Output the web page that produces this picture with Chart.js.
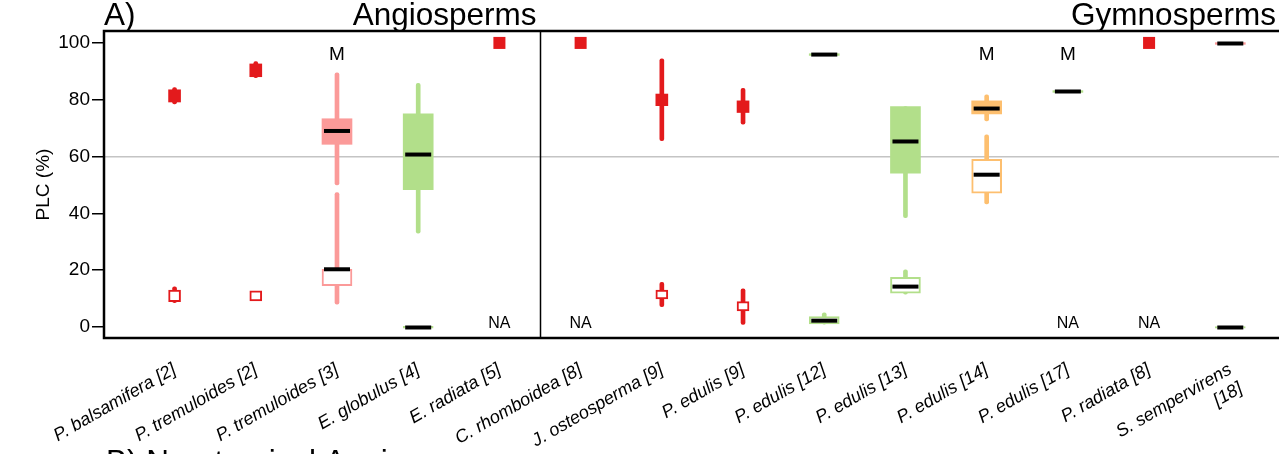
<!DOCTYPE html>
<html>
<head>
<meta charset="utf-8">
<script src="https://cdn.jsdelivr.net/npm/chart.js@4.4.0/dist/chart.umd.min.js"></script>
<style>
  html, body { margin: 0; padding: 0; background: #fff; overflow: hidden; }
  #wrap { width: 1300px; height: 454px; }
</style>
</head>
<body>
<div id="wrap"><canvas id="plc-chart"></canvas></div>
<script>
// species / study labels, one per column
const species = [
  "P. balsamifera [2]", "P. tremuloides [2]", "P. tremuloides [3]", "E. globulus [4]", "E. radiata [5]",
  "C. rhomboidea [8]", "J. osteosperma [9]", "P. edulis [9]", "P. edulis [12]", "P. edulis [13]",
  "P. edulis [14]", "P. edulis [17]", "P. radiata [8]", ["S. sempervirens", "[18]"]
];
const yTicks = [0, 20, 40, 60, 80, 100];
const plcThreshold = 60;
const groupSplit = 5.5; // angiosperms | gymnosperms

// filled boxes: trees that died
const deadLow  = [78.5, 87.8, 50.0, 33.0, null, null, 65.6, 71.4, 95.9, 38.5, 72.5, 82.9, null, 99.8];
const deadQ1   = [79.2, 88.1, 64.3, 48.3, null, null, 77.9, 75.5, 95.6, 54.1, 75.0, 82.6, null, 99.5];
const deadMed  = [null, null, 69.0, 60.7, null, null, null, null, 95.9, 65.3, 76.9, 82.9, null, 99.8];
const deadQ3   = [83.5, 92.6, 73.3, 75.0, null, null, 82.0, 79.6, 96.2, 77.6, 79.6, 83.2, null, 100.1];
const deadHigh = [84.3, 93.4, 89.5, 85.8, null, null, 94.4, 84.0, 95.9, 77.6, 81.7, 82.9, null, 99.8];
const deadPoint = [null, null, null, null, 100, 100, null, null, null, null, null, null, 100, null];

// open boxes: trees that survived
const liveLow  = [8.5, null, 8.0, null, null, null, 7.1, 0.9, 1.0, 11.5, 43.3, null, null, null];
const liveQ1   = [8.9, 9.2, 14.5, -0.4, null, null, 9.9, 5.6, 1.1, 11.9, 47.1, null, null, -0.4];
const liveMed  = [null, null, 20.3, -0.2, null, null, null, null, 2.2, 14.2, 53.6, null, null, -0.2];
const liveQ3   = [13.0, 12.7, 20.3, 0.2, null, null, 13.0, 8.9, 3.6, 17.5, 59.0, null, null, 0.1];
const liveHigh = [14.1, null, 47.3, null, null, null, 15.7, 13.4, 5.0, 20.1, 67.6, null, null, null];

const markM = [3, 11, 12];       // columns flagged "M"
const markNA = [5, 6, 12, 13];   // columns without survivors

const palette = { red: "#E31A1C", pink: "#FB9A99", green: "#B2DF8A", orange: "#FDBF6F" };
const deadColour = ["red", "red", "pink", "green", "red", "red", "red", "red", "green", "green", "orange", "green", "red", "pink"];
const liveColour = ["red", "red", "pink", "green", "red", "red", "red", "red", "green", "green", "orange", "green", "red", "green"];

function pick(arr, test) {
  return arr.map((v, i) => i).filter(test);
}

function makeSets(low, q1, med, q3, high, colours, filled) {
  const sets = [];
  const whisk = pick(low, (i) => low[i] !== null && high[i] !== null);
  sets.push({
    type: "bar",
    order: 3,
    data: whisk.map((i) => ({ x: i + 1, y: [low[i], high[i]] })),
    backgroundColor: whisk.map((i) => palette[colours[i]]),
    barThickness: 4,
    borderRadius: 2,
    borderSkipped: false,
    grouped: false,
  });
  const wide = pick(q1, (i) => q1[i] !== null && med[i] !== null);
  const narrow = pick(q1, (i) => q1[i] !== null && med[i] === null);
  [[wide, 30], [narrow, 12]].forEach(([idx, w]) => {
    sets.push({
      type: "bar",
      order: filled ? 1 : 2,
      data: idx.map((i) => ({ x: i + 1, y: [q1[i], q3[i]] })),
      backgroundColor: idx.map((i) => (filled ? palette[colours[i]] : "#ffffff")),
      borderColor: idx.map((i) => palette[colours[i]]),
      borderWidth: filled ? 0 : 2,
      borderSkipped: false,
      barThickness: w,
      grouped: false,
    });
  });
  const mids = pick(med, (i) => med[i] !== null);
  sets.push({
    type: "scatter",
    order: 0,
    data: mids.map((i) => ({ x: i + 1, y: med[i] })),
    pointStyle: "line",
    pointRadius: 13,
    pointBorderWidth: 4,
    borderColor: "#000",
    backgroundColor: "#000",
  });
  return sets;
}

const pts = pick(deadPoint, (i) => deadPoint[i] !== null);
const datasets = [
  ...makeSets(deadLow, deadQ1, deadMed, deadQ3, deadHigh, deadColour, true),
  ...makeSets(liveLow, liveQ1, liveMed, liveQ3, liveHigh, liveColour, false),
  {
    type: "scatter",
    order: 0,
    data: pts.map((i) => ({ x: i + 1, y: deadPoint[i] })),
    pointStyle: "rect",
    pointRadius: 8.5,
    pointBorderWidth: 0,
    backgroundColor: palette.red,
    borderColor: palette.red,
  },
];

const font = "'Liberation Sans', Arial, sans-serif";

const decorPlugin = {
  id: "decor",
  afterDatasetsDraw(chart) {
    const ctx = chart.ctx;
    const area = chart.chartArea;
    const x = chart.scales.x;
    const y = chart.scales.y;
    ctx.save();
    ctx.fillStyle = "#000";
    ctx.textAlign = "center";
    ctx.textBaseline = "middle";
    ctx.font = `19px ${font}`;
    markM.forEach((c) => ctx.fillText("M", x.getPixelForValue(c), y.getPixelForValue(95.8)));
    ctx.font = `16px ${font}`;
    markNA.forEach((c) => ctx.fillText("NA", x.getPixelForValue(c), y.getPixelForValue(1)));

    // group divider
    ctx.strokeStyle = "#000";
    ctx.lineWidth = 1.5;
    const dx = Math.round(x.getPixelForValue(groupSplit)) + 0.5;
    ctx.beginPath();
    ctx.moveTo(dx, area.top);
    ctx.lineTo(dx, area.bottom);
    ctx.stroke();

    // frame
    ctx.lineWidth = 2.5;
    ctx.strokeRect(area.left, area.top, area.right - area.left, area.bottom - area.top);

    // panel titles
    ctx.textBaseline = "alphabetic";
    ctx.font = `31.5px ${font}`;
    ctx.textAlign = "left";
    ctx.fillText("A)", area.left, 25);
    ctx.fillText("B) Non-tropical Angiosperms", area.left + 2, 472);
    ctx.textAlign = "right";
    ctx.fillText("Angiosperms", dx - 4, 25);
    ctx.fillText("Gymnosperms", x.getPixelForValue(14.5) + 5, 25);
    ctx.restore();
  },
};

new Chart(document.getElementById("plc-chart"), {
  type: "bar",
  data: { datasets: datasets },
  plugins: [decorPlugin],
  options: {
    responsive: true,
    maintainAspectRatio: false,
    animation: false,
    layout: { padding: { left: 30, top: 31, right: 10, bottom: 0 } },
    plugins: { legend: { display: false }, tooltip: { enabled: false } },
    scales: {
      x: {
        type: "linear",
        offset: false,
        min: 0.131,
        max: 14.649,
        afterBuildTicks: (scale) => {
          scale.ticks = species.map((s, i) => ({ value: i + 1 }));
        },
        afterFit: (scale) => {
          scale.height = 116;
        },
        grid: { display: false, drawTicks: false, offset: false },
        border: { display: false },
        ticks: {
          autoSkip: false,
          minRotation: 30,
          maxRotation: 30,
          padding: 21,
          labelOffset: 0,
          color: "#000",
          font: { size: 18, style: "italic", family: font },
          callback: (v) => species[v - 1],
        },
      },
      y: {
        min: -3.9,
        max: 104.2,
        afterBuildTicks: (scale) => {
          scale.ticks = yTicks.map((v) => ({ value: v }));
        },
        afterFit: (scale) => {
          scale.width = 74;
        },
        border: { display: false },
        grid: {
          drawTicks: true,
          tickLength: 12,
          tickColor: "#000",
          tickWidth: 1.5,
          lineWidth: 1.5,
          color: (c) => (c.tick && c.tick.value === plcThreshold ? "#c4c4c4" : "rgba(0,0,0,0)"),
        },
        ticks: {
          padding: 2,
          color: "#000",
          font: { size: 19, family: font },
        },
        title: {
          display: true,
          text: "PLC (%)",
          color: "#000",
          font: { size: 19, family: font },
          padding: { top: 2, bottom: 2 },
        },
      },
    },
  },
});
</script>
</body>
</html>
